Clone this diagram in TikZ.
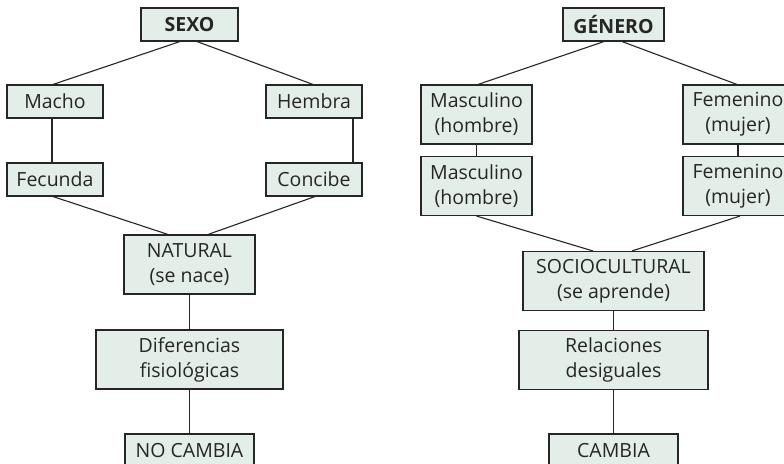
\documentclass[tikz,border=0pt]{standalone}
\usepackage{fontspec}
\setmainfont{Open Sans}
\definecolor{boxfill}{HTML}{E3EEE8}
\definecolor{ink}{HTML}{262626}
\begin{document}
\begin{tikzpicture}[x=1pt,y=-1pt,
  box/.style={draw=ink,fill=boxfill,line width=1.1pt,rectangle,inner sep=0pt,
    align=center,text=ink,font=\fontsize{19.5}{25}\selectfont},
  one/.style={box,minimum height=33pt},
  two/.style={box,minimum height=59pt},
  link/.style={draw=ink,line width=1.1pt}]
\useasboundingbox (0,0) rectangle (784,463);
\clip (0,0) rectangle (784,463);
\fill[white] (0,0) rectangle (784,463);
% left tree
\node[one,minimum width=97pt,font=\fontsize{19.5}{25}\selectfont\bfseries] (sexo) at (189.5,24.5) {SEXO};
\node[one,minimum width=96pt] (macho) at (55,101.5) {Macho};
\node[one,minimum width=96pt] (hembra) at (314,101.5) {Hembra};
\node[one,minimum width=96pt] (fecunda) at (55,179.5) {Fecunda};
\node[one,minimum width=96pt] (concibe) at (314,179.5) {Concibe};
\node[two,minimum width=131pt] (natural) at (189.5,264.5) {NATURAL\\(se nace)};
\node[two,minimum width=187pt] (dif) at (189.5,359.5) {Diferencias\\fisiológicas};
\node[one,minimum width=129pt] (nocambia) at (189.5,450.5) {NO CAMBIA};
\draw[link] ([xshift=-9.5pt]sexo.south) -- ([xshift=-2pt]macho.north);
\draw[link] ([xshift=7.5pt]sexo.south) -- ([xshift=-1pt]hembra.north);
\draw[link] ([xshift=-3pt]macho.south) -- ([xshift=-3pt]fecunda.north);
\draw[link] ([xshift=39pt]hembra.south) -- ([xshift=39pt]concibe.north);
\draw[link] ([xshift=-2pt]fecunda.south) -- ([xshift=-21.5pt]natural.north);
\draw[link] ([xshift=1pt]concibe.south) -- ([xshift=18.5pt]natural.north);
\draw[link] (natural.south) -- (dif.north);
\draw[link] (dif.south) -- (nocambia.north);
% right tree
\node[one,minimum width=101pt,font=\fontsize{19.5}{25}\selectfont\bfseries] (genero) at (613.5,24.5) {GÉNERO};
\node[two,minimum width=111pt] (masc1) at (476.5,114.5) {Masculino\\(hombre)};
\node[two,minimum width=110pt] (fem1) at (738,114.5) {Femenino\\(mujer)};
\node[two,minimum width=111pt] (masc2) at (476.5,186) {Masculino\\(hombre)};
\node[two,minimum width=110pt] (fem2) at (738,186) {Femenino\\(mujer)};
\node[two,minimum width=181pt] (socio) at (613.5,281) {SOCIOCULTURAL\\(se aprende)};
\node[two,minimum width=189pt] (rel) at (613.5,360) {Relaciones\\desiguales};
\node[one,minimum width=129pt] (cambia) at (613.5,450.5) {CAMBIA};
\draw[link] ([xshift=-9.5pt]genero.south) -- ([xshift=1.5pt]masc1.north);
\draw[link] ([xshift=8.5pt]genero.south) -- ([xshift=-1pt]fem1.north);
\draw[link] (masc1.south) -- (masc2.north);
\draw[link] (fem1.south) -- (fem2.north);
\draw[link] (masc2.south) -- ([xshift=-20.5pt]socio.north);
\draw[link] ([xshift=2pt]fem2.south) -- ([xshift=18.5pt]socio.north);
\draw[link] (socio.south) -- (rel.north);
\draw[link] (rel.south) -- (cambia.north);
\end{tikzpicture}
\end{document}
